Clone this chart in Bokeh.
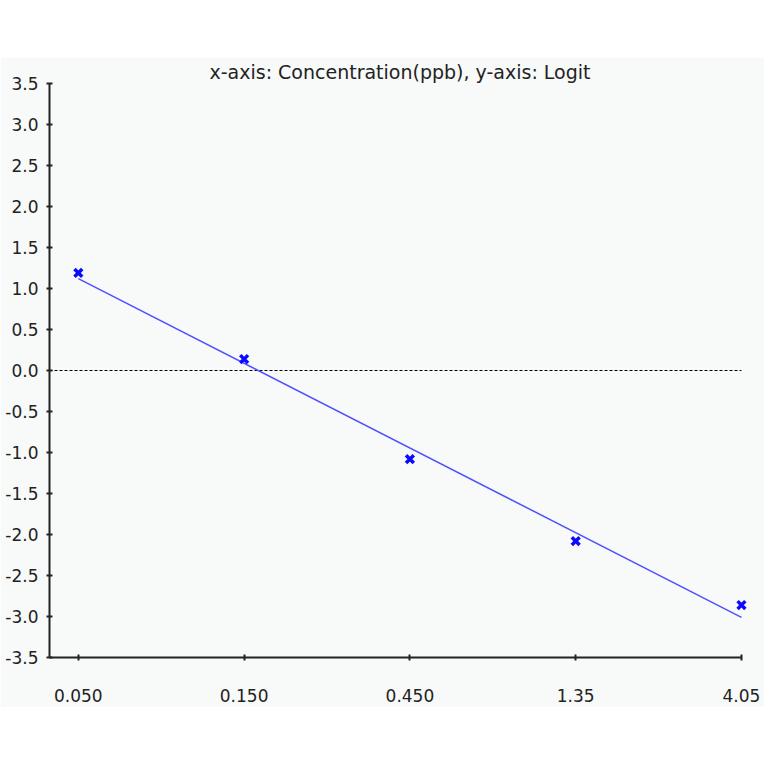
from bokeh.plotting import figure
from bokeh.layouts import column
from bokeh.models import Spacer, FixedTicker, NumeralTickFormatter, Range1d
from bokeh.embed import file_html
from bokeh.resources import INLINE

# Data
conc = [0.05, 0.15, 0.45, 1.35, 4.05]
logit = [1.19, 0.14, -1.08, -2.08, -2.86]
fit_x = [0.05, 4.05]
fit_y = [1.12, -3.01]
x_tick_labels = ["0.050", "0.150", "0.450", "1.35", "4.05"]
y_ticks = [-3.5, -3.0, -2.5, -2.0, -1.5, -1.0, -0.5, 0.0, 0.5, 1.0, 1.5, 2.0, 2.5, 3.0, 3.5]

X_LO, X_HI = 0.0413, 4.30
BG = "#f8f9f9"
FONT = "DejaVu Sans"
INK = "#222222"

p = figure(width=764, height=650, x_axis_type="log",
           x_range=Range1d(X_LO, X_HI), y_range=Range1d(-3.5, 3.5),
           output_backend="svg", toolbar_location=None,
           title="x-axis: Concentration(ppb), y-axis: Logit",
           min_border_left=49, min_border_right=14, min_border_bottom=50, min_border_top=0)
p.background_fill_color = BG
p.border_fill_color = BG
p.outline_line_color = None
p.grid.visible = False

p.title.align = "center"
p.title.text_font = FONT
p.title.text_font_style = "normal"
p.title.text_font_size = "19px"
p.title.text_color = INK
p.title.standoff = 2

p.xaxis.ticker = FixedTicker(ticks=conc)
p.xaxis.major_label_overrides = {c: l for c, l in zip(conc, x_tick_labels)}
p.xaxis.bounds = (X_LO, conc[-1])
p.xaxis.minor_tick_line_color = None
p.yaxis.ticker = FixedTicker(ticks=y_ticks)
p.yaxis.formatter = NumeralTickFormatter(format="0.0")
p.yaxis.minor_tick_line_color = None
for ax in (p.xaxis, p.yaxis):
    ax.axis_line_color = INK
    ax.axis_line_width = 2
    ax.major_tick_line_color = INK
    ax.major_tick_line_width = 2
    ax.major_tick_in = 3
    ax.major_tick_out = 3
    ax.major_label_text_font = FONT
    ax.major_label_text_font_size = "17px"
    ax.major_label_text_color = INK
p.yaxis.major_label_standoff = 8
p.xaxis.major_label_standoff = 28

# zero reference line
p.line([X_LO, conc[-1]], [0, 0], line_color="black", line_width=1, line_dash="3 2")

p.line(fit_x, fit_y, line_color="#5050ff", line_width=1.5)
p.scatter(conc, logit, marker="x", size=11, line_color="#0a0aff", line_width=3.5)

layout = column(Spacer(height=57, width=764), p, spacing=0)
open("out.html", "w").write(file_html(layout, INLINE))
